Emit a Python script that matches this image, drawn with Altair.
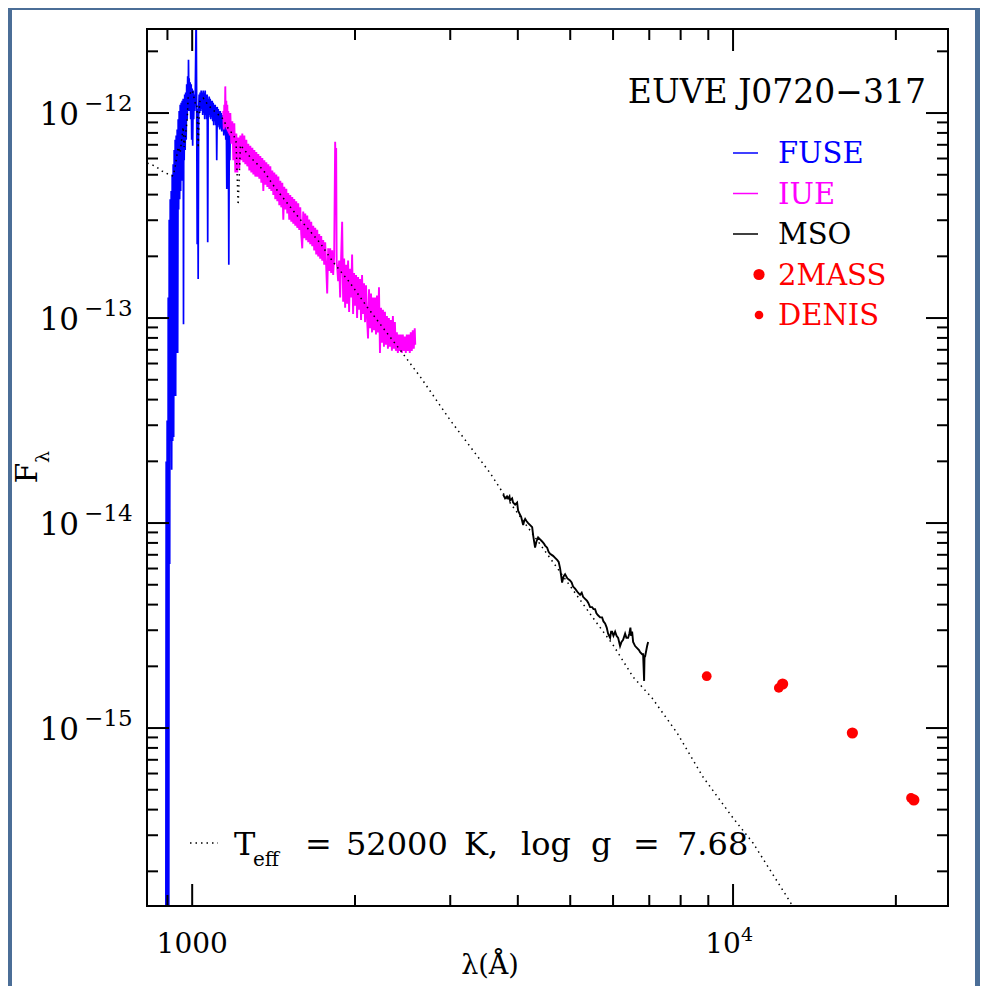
import altair as alt
import pandas as pd

FONT = "DejaVu Serif"

# ---------------- data ----------------
# FUSE spectrum: wavelength (Angstrom) and log10 F_lambda
fuse_wave = [893.8, 895.2, 896.6, 898.9, 901.0, 903.0, 905.0, 906.8, 908.7, 910.7,
             912.6, 914.5, 916.4, 918.4, 920.3, 922.3, 924.2, 926.2, 928.1, 930.1,
             932.1, 934.1, 936.1, 938.1, 940.1, 942.1, 944.0, 946.1, 948.1, 950.2,
             952.2, 954.2, 956.3, 958.3, 960.4, 962.4, 963.7, 964.9, 966.5, 968.6,
             970.6, 972.7, 974.8, 976.9, 978.9, 981.0, 983.1, 984.4, 986.1, 987.3,
             989.4, 991.5, 993.6, 995.8, 997.9, 1000.0, 1002.1, 1004.3, 1006.4, 1008.5,
             1010.7, 1012.8, 1017.2, 1019.3, 1021.5, 1023.7, 1025.8, 1028.0, 1030.2, 1032.4,
             1034.6, 1036.8, 1039.0, 1041.3, 1043.5, 1045.8, 1048.0, 1050.2, 1052.4, 1054.7,
             1056.9, 1059.2, 1061.4, 1063.7, 1066.0, 1068.3, 1070.5, 1072.8, 1075.1, 1077.4,
             1079.7, 1082.0, 1084.3, 1086.7, 1089.0, 1091.4, 1093.7, 1096.0, 1098.4, 1100.7,
             1103.1, 1105.5, 1107.8, 1110.2, 1112.6, 1115.0, 1117.4, 1119.8, 1122.2, 1124.6,
             1127.0, 1129.4, 1131.8, 1134.2, 1136.6, 1139.0, 1141.5, 1144.0, 1146.4, 1148.9,
             1151.3, 1153.8, 1156.3, 1158.7, 1161.2, 1163.7, 1166.2, 1168.7, 1171.2, 1173.7,
             1176.2]
fuse_logf = [-16.3, -13.7, -16.3, -13.5, -16.3, -12.9, -16.3, -12.52, -14.2, -12.42,
             -13.6, -12.38, -13.74, -12.30, -13.60, -12.25, -13.58, -12.18, -13.38, -12.13,
             -13.38, -12.11, -13.17, -12.08, -13.17, -12.03, -12.47, -11.99, -12.42, -11.96,
             -12.38, -11.95, -12.33, -11.94, -12.28, -11.93, -13.03, -11.94, -12.23, -11.91,
             -12.18, -11.90, -12.13, -11.86, -12.03, -11.82, -11.99, -11.74, -11.94, -11.83,
             -11.99, -11.85, -12.03, -11.86, -12.13, -11.88, -12.16, -11.89, -12.03, -11.91,
             -11.99, -11.94, -11.50, -11.96, -12.64, -11.98, -12.81, -11.98, -11.91, -12.00,
             -11.90, -11.99, -11.89, -11.98, -11.90, -12.01, -11.89, -12.00, -11.90, -12.03,
             -11.89, -12.01, -11.91, -12.03, -11.91, -12.63, -11.93, -12.02, -11.92, -12.01,
             -11.93, -12.03, -11.94, -12.02, -11.94, -12.04, -11.95, -12.06, -11.96, -12.04,
             -11.96, -12.06, -11.97, -12.23, -11.97, -12.07, -11.98, -12.06, -11.99, -12.08,
             -11.99, -12.07, -12.00, -12.09, -12.01, -12.08, -12.01, -12.11, -12.02, -12.10,
             -12.03, -12.13, -12.03, -12.37, -12.04, -12.18, -12.06, -12.74, -12.07, -12.23,
             -12.08]

# IUE spectrum
iue_wave = [1141.5, 1144.0, 1146.4, 1148.9, 1151.3, 1153.8, 1156.3, 1158.7, 1161.2, 1163.7,
            1166.2, 1168.7, 1171.2, 1173.7, 1176.2, 1181.2, 1186.3, 1191.4, 1196.5, 1201.6,
            1206.7, 1211.8, 1217.0, 1222.2, 1227.4, 1232.6, 1237.9, 1243.2, 1248.5, 1253.8,
            1259.2, 1264.5, 1269.9, 1275.4, 1280.8, 1286.3, 1291.9, 1297.4, 1302.9, 1308.4,
            1314.0, 1319.6, 1325.3, 1330.9, 1336.5, 1342.3, 1348.0, 1353.7, 1359.5, 1365.3,
            1371.2, 1377.0, 1382.9, 1388.8, 1394.6, 1400.6, 1406.6, 1412.6, 1418.6, 1424.6,
            1430.7, 1436.8, 1443.0, 1449.1, 1455.2, 1461.4, 1467.6, 1473.9, 1480.1, 1486.4,
            1492.8, 1499.1, 1505.4, 1511.8, 1518.3, 1524.8, 1531.3, 1537.8, 1544.3, 1550.9,
            1557.5, 1564.1, 1570.7, 1577.4, 1584.2, 1590.9, 1597.6, 1604.4, 1611.3, 1618.2,
            1625.1, 1632.0, 1639.0, 1646.0, 1653.0, 1660.0, 1667.1, 1674.2, 1681.3, 1688.4,
            1695.6, 1702.9, 1710.1, 1717.4, 1724.6, 1732.0, 1739.4, 1746.8, 1754.2, 1761.6,
            1769.2, 1776.7, 1784.2, 1791.8, 1799.4, 1807.1, 1814.8, 1822.5, 1830.2, 1838.0,
            1841.9, 1845.8, 1849.7, 1853.6, 1861.5, 1869.4, 1877.4, 1885.5, 1893.5, 1901.6,
            1909.6, 1917.6, 1925.8, 1934.0, 1942.1, 1950.4, 1958.7, 1967.1, 1975.5, 1983.9,
            1992.2, 2000.6, 2009.2, 2017.8, 2026.4, 2034.9, 2043.5, 2052.3, 2061.0, 2069.7,
            2078.5, 2087.2, 2096.2, 2105.1, 2114.0, 2123.0, 2131.9, 2141.1, 2150.2, 2159.3,
            2168.5, 2177.6, 2186.9, 2196.2, 2205.5, 2214.9, 2224.2, 2233.7, 2243.2, 2252.7,
            2262.2, 2271.8, 2281.5, 2291.2, 2300.9, 2310.6, 2320.4, 2330.3, 2340.2, 2350.1,
            2360.0, 2370.0, 2380.1, 2390.2, 2400.3, 2410.5, 2420.6, 2431.0, 2441.3, 2451.6,
            2462.0, 2472.4, 2483.0, 2493.5, 2504.1, 2514.7, 2525.3, 2536.1, 2546.8, 2557.6,
            2568.4, 2579.2, 2584.6]
iue_logf = [-11.99, -12.08, -11.96, -12.07, -11.87, -12.06, -11.94, -12.08, -11.96, -12.09,
            -11.99, -12.10, -12.00, -12.11, -12.00, -12.15, -12.04, -12.23, -12.05, -12.29,
            -12.10, -12.29, -12.12, -12.27, -12.11, -12.23, -12.10, -12.24, -12.11, -12.25,
            -12.13, -12.26, -12.15, -12.28, -12.16, -12.29, -12.17, -12.30, -12.18, -12.31,
            -12.19, -12.31, -12.20, -12.32, -12.21, -12.34, -12.22, -12.38, -12.23, -12.35,
            -12.24, -12.36, -12.25, -12.37, -12.26, -12.38, -12.28, -12.40, -12.29, -12.42,
            -12.30, -12.43, -12.31, -12.45, -12.33, -12.46, -12.34, -12.52, -12.36, -12.47,
            -12.37, -12.49, -12.39, -12.52, -12.40, -12.53, -12.41, -12.54, -12.42, -12.55,
            -12.43, -12.56, -12.44, -12.57, -12.46, -12.59, -12.66, -12.48, -12.61, -12.49,
            -12.62, -12.50, -12.63, -12.52, -12.64, -12.53, -12.65, -12.55, -12.67, -12.56,
            -12.69, -12.57, -12.70, -12.59, -12.71, -12.60, -12.72, -12.62, -12.74, -12.63,
            -12.75, -12.88, -12.66, -12.77, -12.66, -12.78, -12.67, -12.79, -12.70, -12.14,
            -12.29, -12.17, -12.73, -12.75, -12.82, -12.72, -12.90, -12.70, -12.53, -12.92,
            -12.71, -12.95, -12.74, -12.93, -12.72, -12.97, -12.76, -12.90, -12.69, -12.98,
            -12.78, -12.94, -12.79, -13.00, -12.80, -12.96, -12.81, -13.01, -12.79, -12.98,
            -12.83, -13.02, -12.84, -13.00, -13.10, -12.86, -13.05, -12.88, -13.07, -12.90,
            -13.06, -12.90, -13.08, -12.89, -13.07, -12.85, -13.17, -12.95, -13.12, -12.96,
            -13.14, -12.97, -13.13, -12.99, -13.15, -13.00, -13.14, -13.01, -13.16, -12.99,
            -13.15, -13.02, -13.16, -13.07, -13.17, -13.08, -13.16, -13.08, -13.17, -13.08,
            -13.16, -13.09, -13.17, -13.08, -13.16, -13.08, -13.17, -13.07, -13.16, -13.06,
            -13.15, -13.05, -13.13]

# MSO optical spectrum
mso_wave = [3757, 3789, 3820, 3838, 3860, 3870, 3904, 3920, 3954, 3988,
            4005, 4040, 4057, 4092, 4110, 4127, 4150, 4180, 4216, 4252,
            4270, 4305, 4330, 4361, 4398, 4436, 4470, 4493, 4532, 4560,
            4589, 4648, 4688, 4728, 4760, 4788, 4830, 4860, 4891, 4940,
            4996, 5030, 5061, 5104, 5170, 5214, 5250, 5281, 5326, 5372,
            5400, 5441, 5488, 5520, 5558, 5590, 5629, 5678, 5727, 5760,
            5800, 5840, 5875, 5925, 5950, 5976, 6010, 6053, 6090, 6131,
            6182, 6220, 6262, 6316, 6350, 6397, 6430, 6460, 6480, 6507,
            6535, 6591, 6647, 6700, 6733, 6790, 6819, 6848, 6860, 6878,
            6936, 6966]
mso_logf = [-13.86, -13.88, -13.87, -13.88, -13.87, -13.89, -13.88, -13.90, -13.91, -13.90,
            -13.94, -13.96, -13.97, -14.01, -13.99, -13.98, -13.99, -14.00, -14.01, -14.02,
            -14.06, -14.12, -14.09, -14.07, -14.08, -14.09, -14.10, -14.11, -14.12, -14.14,
            -14.15, -14.16, -14.17, -14.18, -14.19, -14.22, -14.29, -14.26, -14.25, -14.27,
            -14.28, -14.29, -14.31, -14.32, -14.34, -14.35, -14.34, -14.36, -14.37, -14.38,
            -14.39, -14.41, -14.41, -14.42, -14.42, -14.44, -14.45, -14.46, -14.46, -14.48,
            -14.49, -14.51, -14.54, -14.56, -14.53, -14.53, -14.55, -14.53, -14.55, -14.56,
            -14.60, -14.58, -14.57, -14.54, -14.56, -14.56, -14.54, -14.51, -14.55, -14.53,
            -14.58, -14.60, -14.61, -14.62, -14.63, -14.64, -14.64, -14.77, -14.65, -14.65,
            -14.60, -14.58]

# model atmosphere, Teff = 52000 K, log g = 7.68
model_wave = [826, 854, 880, 903, 922, 930, 942, 950, 962, 966,
              979, 983, 1000, 1013, 1020, 1026, 1032, 1035, 1048, 1070,
              1103, 1136, 1161, 1191, 1205, 1216, 1228, 1280, 1353, 1411,
              1498, 1604, 1724, 1822, 1959, 2106, 2255, 2424, 2651, 2999,
              3555, 3757, 4589, 5511, 6001, 6535, 7086, 7881, 8801, 10000,
              10889, 12584, 13300]
model_logf = [-12.244, -12.259, -12.283, -12.298, -12.307, -12.263, -12.166, -12.195, -12.068, -12.166,
              -12.034, -11.922, -11.888, -11.951, -11.95, -12.17, -11.95, -11.937, -11.927, -11.961,
              -11.995, -12.024, -12.068, -12.107, -12.132, -12.449, -12.156, -12.215, -12.278, -12.351,
              -12.439, -12.537, -12.634, -12.727, -12.829, -12.946, -13.049, -13.156, -13.293, -13.498,
              -13.756, -13.854, -14.171, -14.463, -14.595, -14.751, -14.854, -15.024, -15.239, -15.439,
              -15.561, -15.824, -15.927]

# photometry
twomass_wave = [12350, 16620, 21590]
twomass_flux = [1.64e-15, 9.46e-16, 4.46e-16]
denis_wave = [8940, 12150, 21330]
denis_flux = [1.79e-15, 1.57e-15, 4.56e-16]

# axis ticks and labels
x_major = [1000, 10000]
x_minor = [900, 2000, 3000, 4000, 5000, 6000, 7000, 8000, 9000, 20000]
y_major = [1e-15, 1e-14, 1e-13, 1e-12]
y_major_exp = ["−15", "−14", "−13", "−12"]
y_minor = [2e-16, 3e-16, 4e-16, 5e-16, 6e-16, 7e-16, 8e-16, 9e-16,
           2e-15, 3e-15, 4e-15, 5e-15, 6e-15, 7e-15, 8e-15, 9e-15,
           2e-14, 3e-14, 4e-14, 5e-14, 6e-14, 7e-14, 8e-14, 9e-14,
           2e-13, 3e-13, 4e-13, 5e-13, 6e-13, 7e-13, 8e-13, 9e-13,
           2e-12]

legend_labels = ["FUSE", "IUE", "MSO", "2MASS", "DENIS"]
legend_colors = ["#0000ff", "#ff00ff", "#000000", "#ff0000", "#ff0000"]

# ---------------- tables ----------------
def spec_df(w, lf):
    return pd.DataFrame({"wave": w, "flux": [10 ** v for v in lf], "i": list(range(len(w)))})

fuse_df = spec_df(fuse_wave, fuse_logf)
iue_df = spec_df(iue_wave, iue_logf)
mso_df = spec_df(mso_wave, mso_logf)
model_df = spec_df(model_wave, model_logf)
tm_df = pd.DataFrame({"wave": twomass_wave, "flux": twomass_flux})
dn_df = pd.DataFrame({"wave": denis_wave, "flux": denis_flux})
one = pd.DataFrame({"k": [0]})

W, H = 801, 877
XS = alt.Scale(type="log", domain=[825, 24970], nice=False)
YS = alt.Scale(type="log", domain=[1.355e-16, 2.57e-12], nice=False)


def X():
    return alt.X("wave:Q", scale=XS, axis=None)


def Y():
    return alt.Y("flux:Q", scale=YS, axis=None)


layers = []
# white slide panel
layers.append(alt.Chart(one).mark_rect(color="white").encode(
    x=alt.value(-135), x2=alt.value(828), y=alt.value(-19), y2=alt.value(980)))

layers.append(alt.Chart(fuse_df).mark_line(color="#0000ff", strokeWidth=1.7, clip=True).encode(
    x=X(), y=Y(), order="i:Q"))
layers.append(alt.Chart(iue_df).mark_line(color="#ff00ff", strokeWidth=1.9, clip=True).encode(
    x=X(), y=Y(), order="i:Q"))
layers.append(alt.Chart(mso_df).mark_line(color="#000000", strokeWidth=1.9, clip=True).encode(
    x=X(), y=Y(), order="i:Q"))
layers.append(alt.Chart(model_df).mark_line(color="#000000", strokeWidth=1.5, strokeDash=[1.5, 4],
                                            clip=True).encode(x=X(), y=Y(), order="i:Q"))
layers.append(alt.Chart(tm_df).mark_circle(color="#ff0000", size=125, opacity=1).encode(x=X(), y=Y()))
layers.append(alt.Chart(dn_df).mark_circle(color="#ff0000", size=95, opacity=1).encode(x=X(), y=Y()))

# ticks on all four sides, pointing inwards
MAJ, MIN = 22, 11
xmaj = pd.DataFrame({"wave": x_major})
xmin = pd.DataFrame({"wave": x_minor})
ymaj = pd.DataFrame({"flux": y_major, "exp": y_major_exp})
ymin = pd.DataFrame({"flux": y_minor})
for df, ln in [(xmaj, MAJ), (xmin, MIN)]:
    layers.append(alt.Chart(df).mark_rule(color="black", strokeWidth=2).encode(
        x=X(), y=alt.value(H), y2=alt.value(H - ln)))
    layers.append(alt.Chart(df).mark_rule(color="black", strokeWidth=2).encode(
        x=X(), y=alt.value(0), y2=alt.value(ln)))
for df, ln in [(ymaj, MAJ), (ymin, MIN)]:
    layers.append(alt.Chart(df).mark_rule(color="black", strokeWidth=2).encode(
        y=Y(), x=alt.value(0), x2=alt.value(ln)))
    layers.append(alt.Chart(df).mark_rule(color="black", strokeWidth=2).encode(
        y=Y(), x=alt.value(W), x2=alt.value(W - ln)))

# frame
layers.append(alt.Chart(one).mark_rect(fillOpacity=0, stroke="black", strokeWidth=2).encode(
    x=alt.value(0), x2=alt.value(W), y=alt.value(0), y2=alt.value(H)))

# tick labels (placed through the scales)
layers.append(alt.Chart(ymaj).mark_text(text="10", font=FONT, fontSize=31, align="right",
                                        baseline="middle", dy=3).encode(y=Y(), x=alt.value(-68)))
layers.append(alt.Chart(ymaj).mark_text(font=FONT, fontSize=23, align="left",
                                        baseline="middle", dy=-9).encode(
    y=Y(), x=alt.value(-63), text="exp:N"))
layers.append(alt.Chart(xmaj.iloc[[0]]).mark_text(text="1000", font=FONT, fontSize=28, align="center",
                                                  baseline="alphabetic").encode(x=X(), y=alt.value(924)))
layers.append(alt.Chart(xmaj.iloc[[1]]).mark_text(text="10", font=FONT, fontSize=28, align="center",
                                                  baseline="alphabetic", dx=-10).encode(x=X(), y=alt.value(924)))
layers.append(alt.Chart(xmaj.iloc[[1]]).mark_text(text="4", font=FONT, fontSize=19, align="left",
                                                  baseline="alphabetic", dx=8, dy=-12).encode(x=X(), y=alt.value(924)))


def label(text, x, y, size, color="black", align="left", angle=0, baseline="alphabetic"):
    return alt.Chart(one).mark_text(text=text, font=FONT, fontSize=size, color=color,
                                    align=align, baseline=baseline, angle=angle).encode(
        x=alt.value(x), y=alt.value(y))


# title
layers.append(label("EUVE J0720−317", 779, 74, 33, align="right"))

# legend
for i, (lab, col) in enumerate(zip(legend_labels, legend_colors)):
    yy = 124 + i * 40.5
    layers.append(label(lab, 631, yy + 10, 29, color=col))
    if i < 3:
        layers.append(alt.Chart(one).mark_rule(color=col, strokeWidth=1.5).encode(
            x=alt.value(586), x2=alt.value(611), y=alt.value(yy)))
    else:
        layers.append(alt.Chart(one).mark_circle(color=col, size=125 if i == 3 else 75, opacity=1).encode(
            x=alt.value(612), y=alt.value(yy)))

# model annotation
layers.append(alt.Chart(one).mark_rule(color="black", strokeWidth=1.5, strokeDash=[1.5, 4]).encode(
    x=alt.value(43), x2=alt.value(71), y=alt.value(814)))
layers.append(label("T", 87, 826, 32))
layers.append(label("eff", 106, 837, 20))
for txt, xx in [("=", 158), ("52000", 199), ("K,", 317), ("log", 374), ("g", 444), ("=", 486), ("7.68", 530)]:
    layers.append(label(txt, xx, 826, 32))

# axis titles
layers.append(label("F", -110, 444, 30, angle=270, align="center"))
layers.append(label("λ", -98, 428, 19, angle=270, align="center"))
layers.append(label("λ(Å)", 343, 945, 27, align="center"))

chart = alt.layer(*layers).properties(
    width=W, height=H,
    autosize=alt.AutoSizeParams(type="none"),
    padding={"left": 139, "top": 21, "right": 32, "bottom": 80},
    background="#4b6e97",
).configure_view(stroke=None)

chart.save("out.html", embed_options={"renderer": "svg", "actions": False})
